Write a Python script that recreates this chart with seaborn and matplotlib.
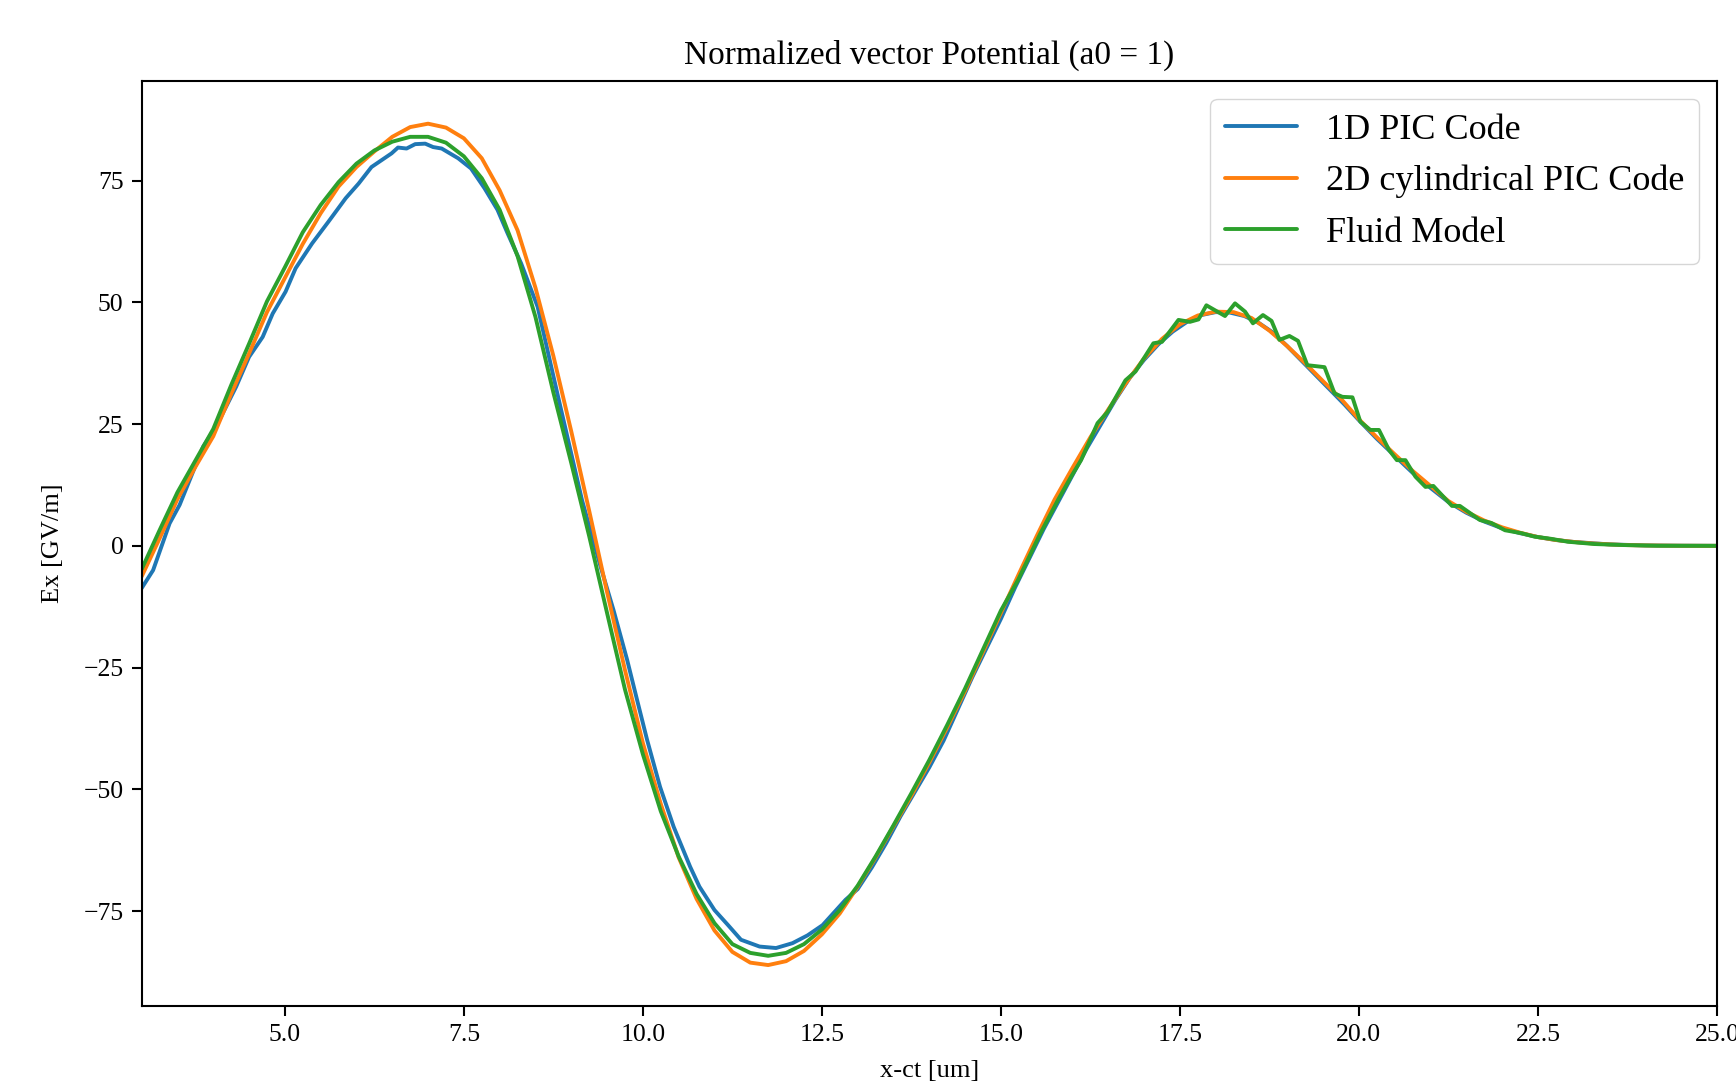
import numpy as np
import pandas as pd
import matplotlib
matplotlib.use("Agg")
import matplotlib.pyplot as plt
import seaborn as sns

# 2D cylindrical PIC code (smooth)
x_2d = [3.00, 3.25, 3.50, 3.75, 4.00, 4.25, 4.50, 4.75, 5.00, 5.25, 5.50, 5.75,
        6.00, 6.25, 6.50, 6.75, 7.00, 7.25, 7.50, 7.75, 8.00, 8.25, 8.50, 8.75,
        9.00, 9.25, 9.50, 9.75, 10.00, 10.25, 10.50, 10.75, 11.00, 11.25, 11.50, 11.75,
        12.00, 12.25, 12.50, 12.75, 13.00, 13.25, 13.50, 13.75, 14.00, 14.25, 14.50, 14.75,
        15.00, 15.25, 15.50, 15.75, 16.00, 16.25, 16.50, 16.75, 17.00, 17.25, 17.50, 17.75,
        18.00, 18.25, 18.50, 18.75, 19.00, 19.25, 19.50, 19.75, 20.00, 20.25, 20.50, 20.75,
        21.00, 21.25, 21.50, 21.75, 22.00, 22.25, 22.50, 22.75, 23.00, 23.25, 23.50, 23.75,
        24.00, 24.50, 25.00]
ex_2d = [-6.3, 1.5, 9.6, 16.2, 22.5, 31.2, 39.5, 48.0, 55.0, 62.0, 68.3, 73.8,
         77.8, 81.0, 84.0, 86.0, 86.7, 85.9, 83.7, 79.6, 73.0, 64.8, 53.0, 39.0,
         23.5, 7.2, -9.5, -25.5, -40.5, -53.0, -64.0, -72.5, -79.0, -83.4, -85.6, -86.1,
         -85.3, -83.2, -79.8, -75.5, -70.0, -64.0, -57.6, -51.3, -44.5, -37.3, -29.8, -21.8,
         -13.8, -5.8, 2.0, 9.5, 16.0, 22.3, 28.0, 33.5, 38.5, 42.5, 45.5, 47.3,
         48.1, 48.0, 46.8, 44.2, 41.0, 37.5, 33.8, 30.2, 26.0, 22.3, 18.8, 15.4,
         12.3, 9.2, 7.0, 5.2, 3.8, 2.7, 1.8, 1.2, 0.8, 0.5, 0.3, 0.15,
         0.08, 0.02, 0.0]

# 1D PIC code
x_1d = [3.00, 3.16, 3.39, 3.53, 3.86, 4.04, 4.32, 4.50, 4.69, 4.83, 5.01, 5.15,
        5.38, 5.61, 5.71, 5.85, 6.03, 6.21, 6.35, 6.49, 6.58, 6.70, 6.82, 6.96,
        7.07, 7.19, 7.42, 7.60, 7.79, 7.97, 8.11, 8.30, 8.53, 8.81, 9.15, 9.41,
        9.59, 9.78, 9.92, 10.06, 10.24, 10.43, 10.66, 10.79, 11.00, 11.19, 11.37, 11.63,
        11.86, 12.09, 12.30, 12.51, 12.83, 13.00, 13.20, 13.40, 13.60, 13.80, 14.00, 14.20,
        14.40, 14.60, 14.80, 15.00, 15.20, 15.40, 15.60, 15.80, 16.00, 16.20, 16.40, 16.60,
        16.80, 17.00, 17.20, 17.40, 17.60, 17.80, 18.00, 18.20, 18.40, 18.60, 18.80, 19.00,
        19.20, 19.40, 19.60, 19.80, 20.00, 20.25, 20.50, 20.75, 21.00, 21.25, 21.50, 21.75,
        22.00, 22.25, 22.50, 22.75, 23.00, 23.50, 24.00, 24.50, 25.00]
ex_1d = [-8.7, -5.0, 4.6, 8.4, 20.4, 24.5, 32.7, 38.8, 42.9, 47.7, 52.2, 57.0,
         62.1, 66.6, 68.6, 71.4, 74.4, 77.8, 79.2, 80.6, 81.8, 81.6, 82.5, 82.6,
         81.9, 81.6, 79.6, 77.5, 73.4, 69.0, 64.2, 58.0, 49.1, 31.0, 9.4, -4.3,
         -13.2, -23.4, -31.7, -39.9, -49.5, -57.7, -65.9, -70.0, -74.8, -77.9, -80.9, -82.3,
         -82.6, -81.6, -80.0, -77.9, -72.7, -70.5, -66.0, -61.0, -55.5, -50.5, -45.5, -40.0,
         -33.5, -27.0, -21.0, -15.0, -8.5, -2.5, 3.5, 9.0, 14.5, 20.0, 25.0, 30.0,
         34.5, 38.2, 41.4, 44.0, 46.0, 47.4, 48.0, 47.9, 47.2, 45.8, 43.8, 41.0,
         38.0, 35.0, 32.0, 29.0, 25.8, 22.0, 18.5, 15.0, 11.9, 9.0, 6.8, 5.0,
         3.6, 2.6, 1.8, 1.2, 0.8, 0.3, 0.08, 0.02, 0.0]

# Fluid model
x_fl = [3.00, 3.25, 3.50, 3.75, 4.00, 4.25, 4.50, 4.75, 5.00, 5.25, 5.50, 5.75,
        6.00, 6.25, 6.50, 6.75, 7.00, 7.25, 7.50, 7.75, 8.00, 8.25, 8.50, 8.75,
        9.00, 9.25, 9.50, 9.75, 10.00, 10.25, 10.50, 10.75, 11.00, 11.25, 11.50, 11.75,
        12.00, 12.25, 12.50, 12.75, 13.00, 13.25, 13.50, 13.75, 14.00, 14.25, 14.50, 14.75,
        15.00, 15.24, 15.55, 15.80, 15.98, 16.12, 16.35, 16.49, 16.74, 16.88, 17.13, 17.25,
        17.48, 17.64, 17.76, 17.87, 18.13, 18.27, 18.41, 18.52, 18.66, 18.78, 18.89, 19.03,
        19.15, 19.28, 19.52, 19.66, 19.77, 19.91, 20.02, 20.16, 20.28, 20.42, 20.53, 20.65,
        20.79, 20.93, 21.04, 21.30, 21.41, 21.69, 21.85, 22.04, 22.27, 22.45, 22.68, 22.92,
        23.29, 23.70, 24.17, 25.00]
ex_fl = [-4.8, 3.2, 11.0, 17.5, 24.0, 33.0, 41.5, 50.2, 57.2, 64.4, 70.0, 74.7,
         78.5, 81.2, 83.0, 84.0, 84.0, 82.8, 80.0, 75.5, 69.0, 59.5, 47.0, 31.5,
         17.0, 2.0, -13.8, -29.5, -42.8, -54.5, -63.8, -71.5, -77.5, -81.8, -83.6, -84.2,
         -83.6, -81.8, -78.8, -74.8, -69.8, -63.8, -57.4, -50.8, -44.0, -36.8, -29.3, -21.3,
         -13.3, -7.0, 2.5, 9.5, 14.2, 17.6, 25.2, 27.5, 34.0, 35.8, 41.6, 41.9,
         46.4, 46.0, 46.5, 49.4, 47.2, 49.8, 48.1, 45.7, 47.4, 46.2, 42.3, 43.1,
         42.1, 37.1, 36.7, 31.3, 30.6, 30.5, 25.5, 23.8, 23.8, 19.7, 17.6, 17.6,
         14.2, 12.1, 12.3, 8.2, 8.2, 5.3, 4.7, 3.2, 2.6, 1.9, 1.45, 0.84,
         0.37, 0.16, 0.02, 0.0]

labels = ["1D PIC Code", "2D cylindrical PIC Code", "Fluid Model"]
colors = ["#1f77b4", "#ff7f0e", "#2ca02c"]

sns.set_style("ticks")
plt.rcParams['font.family'] = ['Liberation Serif', 'DejaVu Serif']
plt.rcParams['text.color'] = 'black'
plt.rcParams['axes.labelcolor'] = 'black'
plt.rcParams['xtick.color'] = 'black'
plt.rcParams['ytick.color'] = 'black'

fig = plt.figure(figsize=(17.36, 10.88), dpi=100)
ax = fig.add_axes([0.0816, 0.0754, 0.9074, 0.8503])

series = [(x_1d, ex_1d), (x_2d, ex_2d), (x_fl, ex_fl)]
for (xs, ys), lab, col in zip(series, labels, colors):
    sns.lineplot(x=xs, y=ys, ax=ax, label=lab, color=col, linewidth=2.8,
                 estimator=None, sort=False)

ax.set_xlim(3, 25)
ax.set_ylim(-94.5, 95.5)
ax.set_xticks([5.0, 7.5, 10.0, 12.5, 15.0, 17.5, 20.0, 22.5, 25.0])
ax.set_xticklabels(["5.0", "7.5", "10.0", "12.5", "15.0", "17.5", "20.0", "22.5", "25.0"])
ax.set_yticks([-75, -50, -25, 0, 25, 50, 75])
ax.set_yticklabels(["\u221275", "\u221250", "\u221225", "0", "25", "50", "75"])
ax.tick_params(labelsize=18.5, length=7, width=1.5, pad=6, direction="out")
for sp in ax.spines.values():
    sp.set_visible(True)
    sp.set_linewidth(1.5)
    sp.set_color("black")

ax.set_title("Normalized vector Potential (a0 = 1)", fontsize=24, pad=12)
ax.set_xlabel("x-ct [um]", fontsize=19, labelpad=10)
ax.set_ylabel("Ex [GV/m]", fontsize=19, labelpad=14)

leg = ax.legend(loc="upper right", fontsize=26, frameon=True, fancybox=True,
                framealpha=0.8, edgecolor="#cccccc", handlelength=2.0,
                borderaxespad=0.5)
for line in leg.get_lines():
    line.set_linewidth(2.8)

fig.savefig("out.png", dpi=100)
